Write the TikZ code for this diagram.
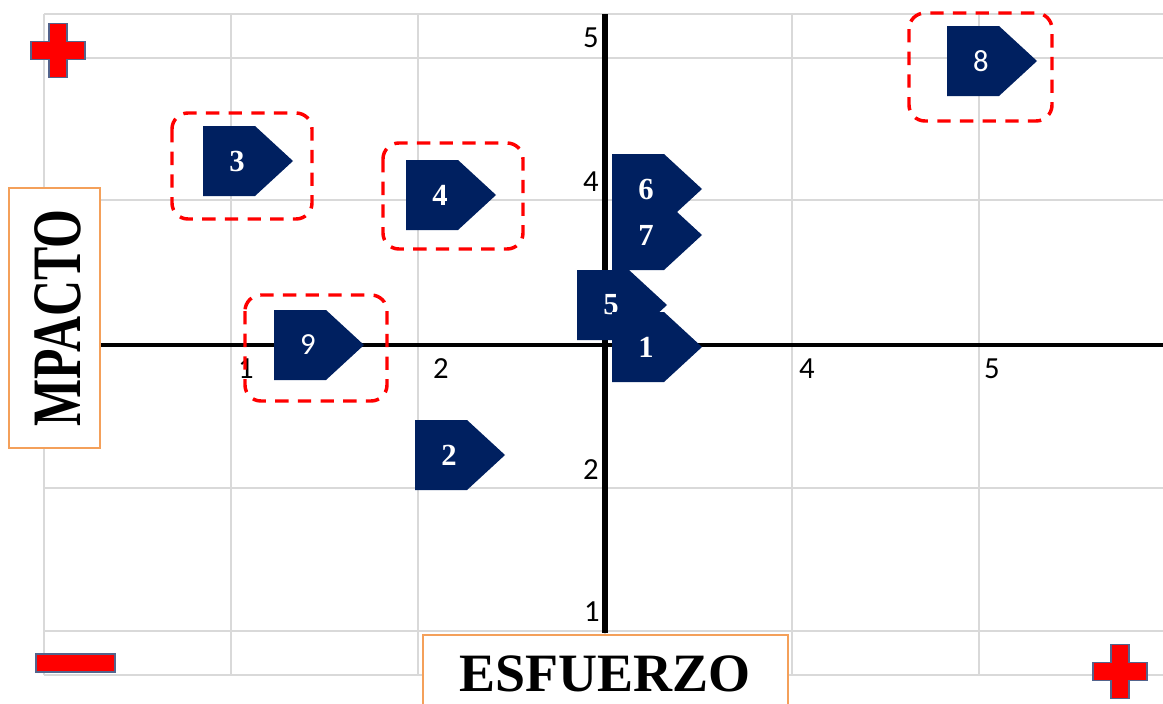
\documentclass[tikz,border=0pt]{standalone}
\usepackage{fontspec}
\setmainfont{Liberation Serif}
\newfontfamily\calibri{Carlito}
\definecolor{marcadorazul}{RGB}{0,32,96}
\definecolor{rejillagris}{RGB}{217,217,217}
\definecolor{cajanaranja}{RGB}{244,160,90}
\definecolor{signorojo}{RGB}{255,0,0}
\definecolor{signoborde}{RGB}{84,100,140}

% marcador: nombre, borde izquierdo, centro vertical, estilo, texto
\newcommand\marcador[5]{%
  \fill[marcadorazul] (#2,#3-35) -- ++(52,0) -- ++(38,35) -- ++(-38,35)
    -- ++(-52,0) -- cycle;
  \node[#4] (#1) at (#2+34,#3) {#5};}
% cruz roja: centro
\newcommand\cruz[2]{%
  \filldraw[signo] (#1-9,#2-27) -- ++(18,0) -- ++(0,18) -- ++(18,0)
    -- ++(0,18) -- ++(-18,0) -- ++(0,18) -- ++(-18,0) -- ++(0,-18)
    -- ++(-18,0) -- ++(0,-18) -- ++(18,0) -- cycle;}

\begin{document}
\begin{tikzpicture}[x=0.75pt,y=-0.75pt,
    rejilla/.style={draw=rejillagris,line width=1.6pt},
    eje/.style={draw=black,line width=3pt},
    seleccion/.style={draw=signorojo,line width=2.6pt,rounded corners=12pt,
      dash pattern=on 10pt off 7pt},
    numserif/.style={text=white,inner sep=0pt,
      font=\bfseries\fontsize{23}{25}\selectfont},
    numsans/.style={text=white,inner sep=0pt,
      font=\calibri\fontsize{23}{25}\selectfont},
    marca/.style={inner sep=0pt,font=\calibri\fontsize{23}{25}\selectfont},
    titulo/.style={draw=cajanaranja,fill=white,line width=1.1pt},
    signo/.style={fill=signorojo,draw=signoborde,line width=0.8pt}]
  \useasboundingbox (0,0) rectangle (1163,703);
  \fill[white] (0,0) rectangle (1163,703);

  % rejilla
  \foreach \gx in {44,231,418,605,792,979}
    \draw[rejilla] (\gx,14) -- (\gx,675);
  \foreach \gy in {14,58,200,488,631,675}
    \draw[rejilla] (44,\gy) -- (1163,\gy);

  % ejes
  \coordinate (ejeizq) at (100,345);
  \coordinate (ejeder) at (1163,345);
  \coordinate (ejearr) at (605,14);
  \coordinate (ejeaba) at (605,633);
  \draw[eje] (ejeizq) -- (ejeder);
  \draw[eje,line width=4.5pt] (ejearr) -- (ejeaba);

  % valores de los ejes
  \node[marca] (y5) at (591,38) {5};
  \node[marca] (y4) at (591,182) {4};
  \node[marca] (y2) at (591,470) {2};
  \node[marca] (y1) at (592,612) {1};
  \node[marca] (x1) at (246,369) {1};
  \node[marca] (x2) at (441,369) {2};
  \node[marca] (x4) at (807,369) {4};
  \node[marca] (x5) at (992,369) {5};

  % titulos
  \draw[titulo] (9,188) rectangle (100,448);
  \node[rotate=90,inner sep=0pt,font=\bfseries\fontsize{52}{56}\selectfont]
    (impacto) at (58,318) {\scalebox{0.72}[1]{MPACTO}};
  \draw[titulo] (423,635) rectangle (788,712);
  \node[anchor=base,inner sep=0pt,font=\bfseries\fontsize{40.5}{44}\selectfont]
    (esfuerzo) at (605,691) {ESFUERZO};

  % signos
  \cruz{58}{50.5}
  \cruz{1120}{671.5}
  \filldraw[signo] (36,654) rectangle (115,672);

  % selecciones
  \draw[seleccion] (172,113) rectangle (312,219);
  \draw[seleccion] (383,143) rectangle (523,249);
  \draw[seleccion] (909,13) rectangle (1052,121);
  \draw[seleccion] (245,295) rectangle (387,401);

  % marcadores
  \marcador{m3}{203}{161}{numserif}{3}
  \marcador{m4}{406}{195}{numserif}{4}
  \marcador{m8}{947}{61}{numsans}{8}
  \marcador{m9}{274}{345}{numsans}{9}
  \marcador{m2}{415}{455}{numserif}{2}
  \marcador{m6}{612}{189}{numserif}{6}
  \marcador{m7}{612}{235}{numserif}{7}
  \marcador{m5}{577}{305}{numserif}{5}
  \marcador{m1}{612}{347}{numserif}{1}
\end{tikzpicture}
\end{document}
